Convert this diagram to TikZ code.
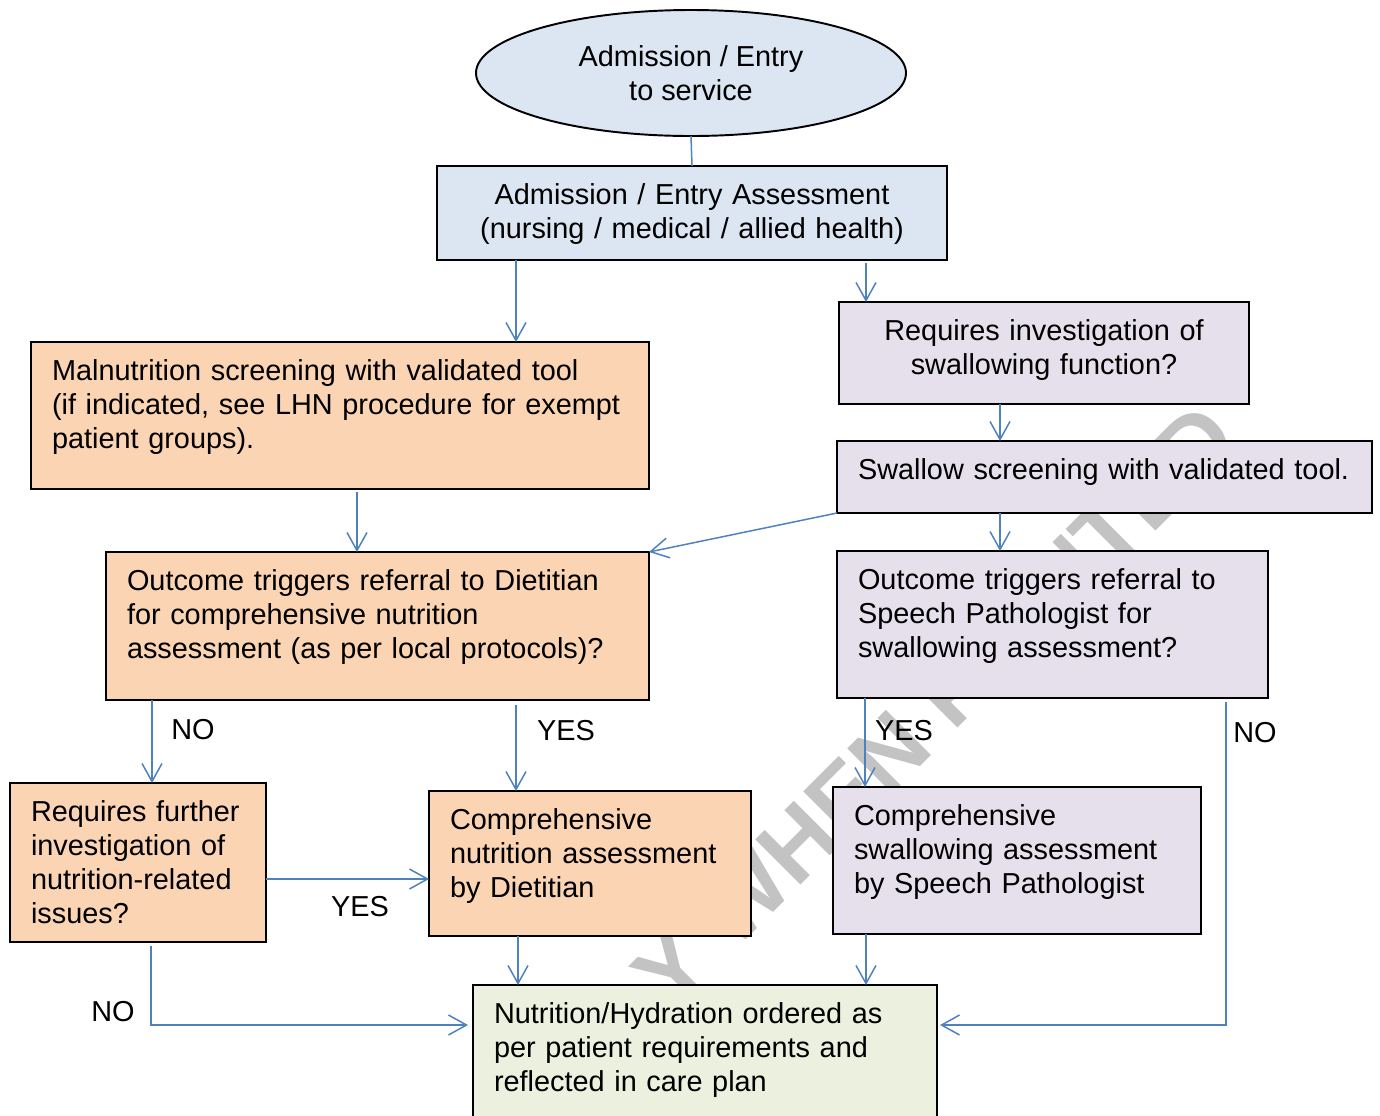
\documentclass[tikz,border=0pt]{standalone}
\usepackage{fontspec}
\setmainfont{Liberation Sans}
\usetikzlibrary{arrows.meta,shapes.geometric}
\definecolor{entryblue}{HTML}{DCE6F2}
\definecolor{dietorange}{HTML}{FBD4B4}
\definecolor{speechlilac}{HTML}{E5E0EC}
\definecolor{ordergreen}{HTML}{EBF1DE}
\definecolor{flowblue}{HTML}{4F81BD}
\definecolor{markgray}{HTML}{C3C3C3}
\newcommand{\boxfont}{\fontsize{16.43pt}{19.35pt}\selectfont}
\tikzset{
  box/.style={rectangle, draw=black, line width=1.1pt, outer sep=0pt,
    inner xsep=4.2mm, inner ysep=0pt, align=left, anchor=north west,
    text height=7.7mm, font=\boxfont},
  flow/.style={draw=flowblue, line width=0.85pt,
    -{Straight Barb[length=3.6mm,width=4mm]}},
  link/.style={draw=flowblue, line width=0.85pt},
  answer/.style={inner sep=0pt, font=\boxfont},
  watermark/.style={inner sep=0pt, text=markgray, rotate=45,
    font=\fontsize{52.9pt}{60pt}\selectfont\bfseries}
}
\begin{document}
\begin{tikzpicture}[x=0.2mm,y=-0.2mm]
\useasboundingbox (0,0) rectangle (1380,1115);
% watermark behind everything
\node[watermark] (wm) at (935,706) {Y WHEN PRINTED};

% entry
\node[ellipse, draw=black, line width=1.1pt, fill=entryblue, outer sep=0pt,
  minimum width=86mm, minimum height=25.2mm, inner sep=0pt, align=center,
  font=\boxfont] (entry) at (691,73) {Admission / Entry\\to service};
\node[box, fill=entryblue, align=center, text width=93.6mm, text depth=11.1mm]
  (assess) at (437,166) {Admission / Entry Assessment\\(nursing / medical / allied health)};

% nutrition side
\node[box, fill=dietorange, text width=115.2mm, text depth=21.7mm] (malnut) at (31,342)
  {Malnutrition screening with validated tool\\(if indicated, see LHN procedure for exempt\\patient groups).};
\node[box, fill=dietorange, text width=100.2mm, text depth=21.9mm] (dietq) at (106,552)
  {Outcome triggers referral to Dietitian\\for comprehensive nutrition\\assessment (as per local protocols)?};
\node[box, fill=dietorange, text width=42.8mm, text depth=24.1mm] (further) at (10,783)
  {Requires further\\investigation of\\nutrition-related\\issues?};
\node[box, fill=dietorange, text width=56mm, text depth=21.3mm] (dietass) at (429,791)
  {Comprehensive\\nutrition assessment\\by Dietitian};

% swallowing side
\node[box, fill=speechlilac, align=center, text width=73.6mm, text depth=12.7mm]
  (swreq) at (839,302) {Requires investigation of\\swallowing function?};
\node[box, fill=speechlilac, text width=98.6mm, text depth=6.7mm] (swscreen) at (837,441)
  {\mbox{Swallow screening with validated tool.}};
\node[box, fill=speechlilac, text width=77.8mm, text depth=21.7mm] (spq) at (837,551)
  {Outcome triggers referral to\\Speech Pathologist for\\swallowing assessment?};
\node[box, fill=speechlilac, text width=65.2mm, text depth=21.7mm] (spass) at (833,787)
  {Comprehensive\\swallowing assessment\\by Speech Pathologist};

% outcome
\node[box, fill=ordergreen, text width=84.4mm, text depth=20.3mm] (order) at (473,985)
  {Nutrition/Hydration ordered as\\per patient requirements and\\reflected in care plan};

% connectors
\draw[link] (entry.south) -- (assess.north);
\draw[flow] (assess.south -| 516,0) -- (malnut.north -| 516,0);
\draw[flow, shorten <=0.6mm] (assess.south -| 866,0) -- (swreq.north -| 866,0);
\draw[flow] (swreq.south -| 1000,0) -- (swscreen.north -| 1000,0);
\draw[flow] (swscreen.south -| 1000,0) -- (spq.north -| 1000,0);
\draw[flow] (swscreen.south west) -- (dietq.north east);
\draw[flow, shorten <=0.6mm] (malnut.south -| 357,0) -- (dietq.north -| 357,0);
\draw[flow] (dietq.south -| 152,0) -- (further.north -| 152,0);
\draw[flow, shorten <=1mm] (dietq.south -| 516,0) -- (dietass.north -| 516,0);
\draw[flow] (spq.south -| 865,0) -- (spass.north -| 865,0);
\draw[flow] (further.east |- 0,879) -- (dietass.west |- 0,879);
\draw[flow] (dietass.south -| 518,0) -- (order.north -| 518,0);
\draw[flow] (spass.south -| 866,0) -- (order.north -| 866,0);
\draw[flow, shorten <=0.8mm, shorten >=1mm] (further.south -| 151,0) |- (order.west |- 0,1025);
\draw[flow, shorten <=0.8mm, shorten >=0.6mm] (spq.south -| 1226,0) |- (order.east |- 0,1025);

% answers
\node[answer] (no1) at (193,730) {NO};
\node[answer] (yes1) at (566,731) {YES};
\node[answer] (yes2) at (904,731) {YES};
\node[answer] (no2) at (1255,733) {NO};
\node[answer] (yes3) at (360,907) {YES};
\node[answer] (no3) at (113,1012) {NO};
\end{tikzpicture}
\end{document}
